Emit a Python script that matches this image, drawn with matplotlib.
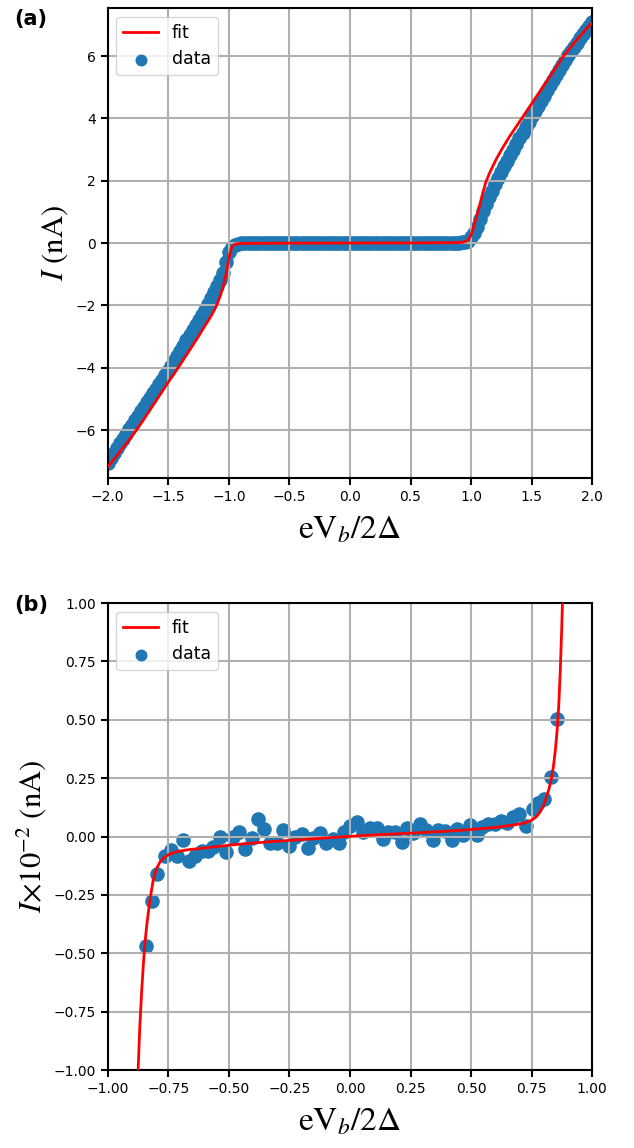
import matplotlib
matplotlib.use('Agg')
import numpy as np
import matplotlib.pyplot as plt
from matplotlib.ticker import FuncFormatter

# subgap data (panel b, units of 1e-2 nA)
v_sub = [-0.843, -0.819, -0.795, -0.764, -0.741, -0.713, -0.689, -0.664, -0.638, -0.613,
         -0.588, -0.565, -0.537, -0.512, -0.485, -0.457, -0.434, -0.406, -0.379, -0.355,
         -0.331, -0.303, -0.278, -0.252, -0.227, -0.200, -0.175, -0.151, -0.124, -0.099,
         -0.072, -0.045, -0.023, 0.000, 0.030, 0.055, 0.083, 0.110, 0.135, 0.158,
         0.186, 0.214, 0.234, 0.262, 0.289, 0.314, 0.342, 0.365, 0.393, 0.420,
         0.443, 0.468, 0.496, 0.524, 0.544, 0.572, 0.599, 0.624, 0.650, 0.675,
         0.700, 0.727, 0.755, 0.778, 0.803, 0.831, 0.855]
i_sub = [-0.469, -0.276, -0.162, -0.082, -0.059, -0.082, -0.015, -0.105, -0.082, -0.061,
         -0.061, -0.044, -0.001, -0.068, 0.000, 0.021, -0.055, -0.008, 0.074, 0.032,
         -0.029, -0.029, 0.028, -0.041, 0.000, 0.011, -0.048, -0.008, 0.014, -0.029,
         -0.012, -0.029, 0.018, 0.046, 0.063, 0.018, 0.035, 0.035, -0.012, 0.018,
         0.021, -0.022, 0.035, 0.014, 0.054, 0.028, -0.015, 0.028, 0.024, -0.015,
         0.031, 0.006, 0.049, 0.006, 0.042, 0.052, 0.052, 0.066, 0.057, 0.082,
         0.096, 0.046, 0.117, 0.142, 0.161, 0.253, 0.503]

# above-gap branches (panel a, nA)
v_neg = [-2.000, -1.975, -1.950, -1.925, -1.900, -1.875, -1.850, -1.825, -1.800, -1.775,
         -1.750, -1.725, -1.700, -1.675, -1.650, -1.625, -1.600, -1.575, -1.550, -1.525,
         -1.500, -1.475, -1.450, -1.425, -1.400, -1.375, -1.350, -1.325, -1.300, -1.275,
         -1.250, -1.225, -1.200, -1.175, -1.150, -1.125, -1.100, -1.075, -1.050, -1.025,
         -1.000, -0.975, -0.950, -0.925, -0.900, -0.875]
i_neg = [-7.05, -6.90, -6.74, -6.59, -6.43, -6.28, -6.12, -5.97, -5.83, -5.68,
         -5.54, -5.40, -5.25, -5.11, -4.96, -4.82, -4.67, -4.53, -4.39, -4.24,
         -4.10, -3.95, -3.78, -3.62, -3.45, -3.29, -3.12, -2.96, -2.80, -2.63,
         -2.47, -2.30, -2.14, -1.97, -1.77, -1.57, -1.38, -1.18, -0.95, -0.62,
         -0.30, -0.12, -0.05, -0.02, -0.01, -0.008]
v_pos = [0.875, 0.900, 0.925, 0.950, 0.975, 1.000, 1.025, 1.050, 1.075, 1.100,
         1.125, 1.150, 1.175, 1.200, 1.225, 1.250, 1.275, 1.300, 1.325, 1.350,
         1.375, 1.400, 1.425, 1.450, 1.475, 1.500, 1.525, 1.550, 1.575, 1.600,
         1.625, 1.650, 1.675, 1.700, 1.725, 1.750, 1.775, 1.800, 1.825, 1.850,
         1.875, 1.900, 1.925, 1.950, 1.975, 2.000]
i_pos = [0.01, 0.015, 0.02, 0.04, 0.08, 0.18, 0.32, 0.53, 0.78, 1.02,
         1.25, 1.47, 1.68, 1.89, 2.09, 2.28, 2.46, 2.64, 2.82, 3.00,
         3.18, 3.36, 3.54, 3.71, 3.89, 4.06, 4.23, 4.40, 4.57, 4.73,
         4.90, 5.06, 5.23, 5.39, 5.55, 5.71, 5.87, 6.03, 6.17, 6.30,
         6.43, 6.57, 6.70, 6.83, 6.96, 7.09]

# fit curves
fit_v = [-2.000, -1.930, -1.850, -1.763, -1.700, -1.600, -1.500, -1.419, -1.340, -1.260,
         -1.200, -1.150, -1.120, -1.095, -1.070, -1.047, -1.030, -1.019, -1.005, -0.995,
         -0.983, -0.970, -0.950, -0.920, -0.880, -0.500, 0.000, 0.500, 0.880, 0.920,
         0.950, 0.978, 1.000, 1.019, 1.037, 1.055, 1.075, 1.097, 1.121, 1.150,
         1.180, 1.212, 1.260, 1.320, 1.419, 1.500, 1.600, 1.700, 1.763, 1.850,
         1.930, 2.000]
fit_i = [-7.18, -6.85, -6.45, -6.00, -5.64, -5.05, -4.46, -4.00, -3.53, -3.05,
         -2.67, -2.36, -2.15, -1.94, -1.68, -1.39, -1.13, -0.93, -0.60, -0.40,
         -0.21, -0.10, -0.04, -0.02, -0.012, -0.004, 0.0, 0.004, 0.012, 0.02,
         0.04, 0.11, 0.25, 0.49, 0.74, 0.98, 1.28, 1.61, 1.94, 2.22,
         2.47, 2.72, 3.05, 3.43, 4.00, 4.47, 5.05, 5.63, 6.00, 6.42,
         6.78, 7.07]

fit_sub_v = [-0.880, -0.874, -0.868, -0.860, -0.852, -0.845, -0.838, -0.826, -0.813, -0.800,
             -0.785, -0.770, -0.750, -0.720, -0.680, -0.620, -0.550, -0.480, -0.400, -0.330,
             -0.200, -0.100, 0.000, 0.100, 0.200, 0.300, 0.400, 0.500, 0.600, 0.680,
             0.720, 0.750, 0.770, 0.785, 0.800, 0.812, 0.822, 0.832, 0.840, 0.848,
             0.855, 0.862, 0.868, 0.874, 0.880]
fit_sub_i = [-1.20, -0.98, -0.82, -0.66, -0.53, -0.44, -0.37, -0.272, -0.19, -0.14,
             -0.11, -0.092, -0.078, -0.066, -0.058, -0.051, -0.043, -0.035, -0.028, -0.022,
             -0.013, -0.006, 0.001, 0.007, 0.012, 0.017, 0.023, 0.030, 0.039, 0.050,
             0.058, 0.070, 0.085, 0.105, 0.135, 0.170, 0.205, 0.250, 0.300, 0.370,
             0.450, 0.560, 0.700, 0.880, 1.100]

plt.rcParams['mathtext.fontset'] = 'stix'

v_all = np.concatenate([v_neg, v_sub, v_pos])
i_all = np.concatenate([i_neg, np.array(i_sub) * 1e-2, i_pos])

fig = plt.figure(figsize=(6.34, 11.48), dpi=100)
ax1 = fig.add_axes([0.170, 0.5836, 0.764, 0.4094])
ax2 = fig.add_axes([0.170, 0.0679, 0.764, 0.4068])

for ax in (ax1, ax2):
    ax.grid(True, color='#b0b0b0', lw=1.5)
    for sp in ax.spines.values():
        sp.set_linewidth(1.5)
    ax.tick_params(width=1.5, length=5, labelsize=10)

ax1.plot(fit_v, fit_i, c='r', lw=2, label='fit', zorder=3)
ax1.scatter(v_all, i_all, s=90, c='#1f77b4', label='data', zorder=1)
ax1.set_xlim(-2, 2)
ax1.set_ylim(-7.54, 7.54)
ax1.set_xticks(np.arange(-2, 2.01, 0.5))
ax1.set_yticks([-6, -4, -2, 0, 2, 4, 6])
ax1.set_xlabel(r'$\mathrm{eV}_b/2\Delta$', fontsize=24, labelpad=6)
ax1.set_ylabel(r'$I\ \mathrm{(nA)}$', fontsize=22)
ax1.legend(loc='upper left', fontsize=12.5, markerscale=0.8)

fmt2 = FuncFormatter(lambda v, pos: ('%.2f' % v).replace('-', '\u2212'))

ax2.plot(fit_sub_v, fit_sub_i, c='r', lw=2, label='fit', zorder=3)
ax2.scatter(v_sub, i_sub, s=90, c='#1f77b4', label='data', zorder=1)
ax2.set_xlim(-1, 1)
ax2.set_ylim(-1, 1)
ax2.set_xticks(np.arange(-1, 1.01, 0.25))
ax2.set_yticks(np.arange(-1, 1.01, 0.25))
ax2.xaxis.set_major_formatter(fmt2)
ax2.yaxis.set_major_formatter(fmt2)
ax2.set_xlabel(r'$\mathrm{eV}_b/2\Delta$', fontsize=24, labelpad=6)
ax2.set_ylabel(r'$I{\times}10^{-2}\ \mathrm{(nA)}$', fontsize=22)
ax2.legend(loc='upper left', fontsize=12.5, markerscale=0.8)

fig.text(0.022, 0.9835, '(a)', fontsize=15, fontweight='bold', va='center')
fig.text(0.022, 0.473, '(b)', fontsize=15, fontweight='bold', va='center')

fig.savefig('out.png', dpi=100)
